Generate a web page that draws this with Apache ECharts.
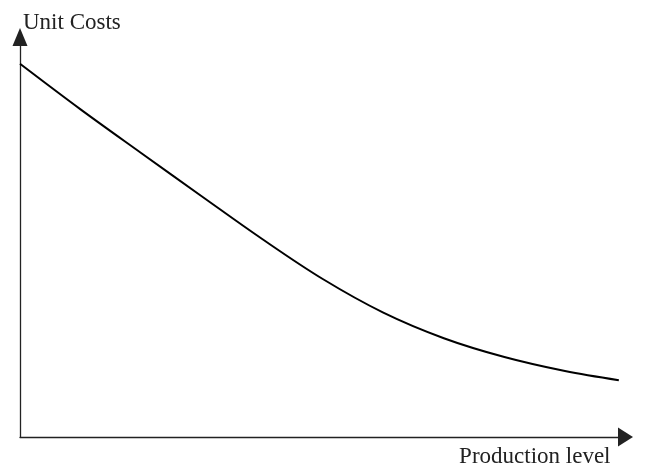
<!DOCTYPE html>
<html>
<head>
<meta charset="utf-8">
<script src="https://cdn.jsdelivr.net/npm/echarts@6/dist/echarts.min.js"></script>
<style>html,body{margin:0;padding:0;background:#fff}#c{width:645px;height:468px}</style>
</head>
<body>
<div id="c"></div>
<script>
var productionLevel = [0, 10, 20, 30, 40, 50, 60, 70, 80, 90, 98.9];
var unitCosts = [93.3, 81.9, 71.0, 60.2, 49.5, 39.5, 31.1, 24.7, 20.0, 16.5, 14.2];
var xAxisName = 'Production level';
var yAxisName = 'Unit Costs';

var chart = echarts.init(document.getElementById('c'));
var pts = productionLevel.map(function (x, i) { return [x, unitCosts[i]]; });
chart.setOption({
  animation: false,
  grid: { left: 20, right: 19.5, top: 37, bottom: 30 },
  xAxis: {
    type: 'value', min: 0, max: 100,
    name: xAxisName, nameLocation: 'end', nameGap: -15,
    nameTextStyle: { fontFamily: 'Liberation Serif', fontSize: 23, color: '#222', align: 'right', verticalAlign: 'top', padding: [8, 0, 0, 0] },
    axisLine: { show: true, symbol: ['none', 'triangle'], symbolSize: [19, 15], lineStyle: { color: '#222', width: 1.3 } },
    axisTick: { show: false }, axisLabel: { show: false }, splitLine: { show: false }
  },
  yAxis: {
    type: 'value', min: 0, max: 100,
    name: yAxisName, nameLocation: 'end', nameGap: 3,
    nameTextStyle: { fontFamily: 'Liberation Serif', fontSize: 23, color: '#222', align: 'left', verticalAlign: 'bottom', padding: [0, 0, 0, 3] },
    axisLine: { show: true, symbol: ['none', 'triangle'], symbolSize: [15, 18], lineStyle: { color: '#222', width: 1.3 } },
    axisTick: { show: false }, axisLabel: { show: false }, splitLine: { show: false }
  },
  series: [{
    type: 'line', data: pts, smooth: 0.35, showSymbol: false,
    lineStyle: { color: '#000', width: 2 }
  }]
});
</script>
</body>
</html>
